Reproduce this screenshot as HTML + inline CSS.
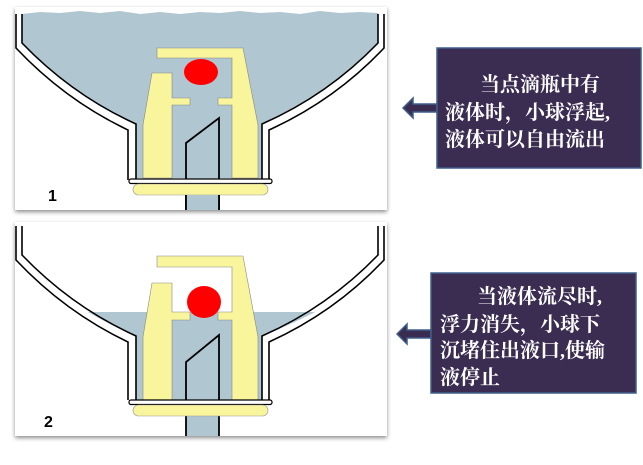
<!DOCTYPE html>
<html><head><meta charset="utf-8"><style>
body{margin:0;background:#fff;width:643px;height:460px;overflow:hidden;font-family:"Liberation Serif","Noto Serif CJK SC",serif}
</style></head><body>
<svg width="643" height="460" viewBox="0 0 643 460" xmlns="http://www.w3.org/2000/svg">
<defs>
<filter id="sh" x="-5%" y="-5%" width="110%" height="115%"><feDropShadow dx="0" dy="2" stdDeviation="2" flood-color="#000" flood-opacity="0.45"/></filter>
<g id="bottle">
 <path d="M16 14 V48 Q65 100 128 130 V180" fill="none" stroke="#000" stroke-width="1.6"/>
 <path d="M22 14 V43 Q72 95 136 124 V180" fill="none" stroke="#000" stroke-width="1.6"/>
 <path d="M384 14 V48 Q335 100 269 130 V180" fill="none" stroke="#000" stroke-width="1.6"/>
 <path d="M378 14 V43 Q328 95 262 124 V180" fill="none" stroke="#000" stroke-width="1.6"/>
</g>
<g id="mech">
 <path d="M152 73 H172 V98 H190 V105 H172 V178 H143 V125 Z" fill="#f9f59c" stroke="#888" stroke-width="0.6"/>
 <path d="M157 48 H243 L258 125 V178 H232 V105 H218 V98 H232 V58 H157 Z" fill="#f9f59c" stroke="#888" stroke-width="0.6"/>
 <path d="M186 210 V143 L219 118 V210" fill="none" stroke="#000" stroke-width="1.8"/>
 <rect x="129" y="179" width="143" height="4.5" rx="2" fill="#fff" stroke="#000" stroke-width="1.2"/>
 <rect x="133" y="184" width="135" height="11" rx="5.5" fill="#f9f59c" stroke="#999" stroke-width="0.6"/>
</g>
</defs>

<rect x="15" y="7" width="372" height="203" fill="#fff" filter="url(#sh)"/>
<path d="M22 14 L40 12 L60 13 L80 11 L100 13 L120 11 L140 14 L160 12 L180 14 L200 12 L220 13 L240 11 L260 13 L280 12 L300 14 L320 11 L340 13 L360 12 L378 13 V43 Q328 95 262 124 V178 H136 V124 Q72 95 22 43 Z" fill="#b0c6d1"/>
<rect x="186" y="178" width="33" height="32" fill="#b0c6d1"/>
<use href="#bottle"/>
<use href="#mech"/>
<rect x="186" y="195" width="33" height="15" fill="#b0c6d1"/>
<path d="M186 195 V210 M219 195 V210" stroke="#000" stroke-width="1.8"/>
<ellipse cx="201" cy="72" rx="17" ry="13" fill="#f00"/>
<text x="48" y="201" font-family="Liberation Sans,sans-serif" font-weight="bold" font-size="16">1</text>

<rect x="15" y="222" width="372" height="214" fill="#fff" filter="url(#sh)"/>
<g transform="translate(0,212)">
 <path d="M88 100 H315 Q290 113 262 124 V188 H136 V124 Q110 113 88 100 Z" fill="#b0c6d1"/>
 <rect x="186" y="188" width="33" height="36" fill="#b0c6d1"/>
 <use href="#bottle"/>
 <path d="M128 180 V188 M136 180 V188 M262 180 V188 M269 180 V188" stroke="#000" stroke-width="1.6"/>
 <g transform="translate(0,8)">
  <path d="M152 63 H172 V92 H190 V100 H172 V180 H143 V117 Z" fill="#f9f59c" stroke="#888" stroke-width="0.6"/>
  <path d="M157 36 H243 L258 117 V180 H232 V100 H218 V92 H232 V47 H157 Z" fill="#f9f59c" stroke="#888" stroke-width="0.6"/>
 </g>
 <path d="M186 224 V150 L219 123 V224" fill="none" stroke="#000" stroke-width="1.8"/>
 <rect x="129" y="188" width="143" height="4.5" rx="2" fill="#fff" stroke="#000" stroke-width="1.2"/>
 <rect x="133" y="193" width="135" height="11" rx="5.5" fill="#f9f59c" stroke="#999" stroke-width="0.6"/>
 <ellipse cx="204" cy="90" rx="17" ry="16" fill="#f00"/>
</g>
<text x="44" y="427" font-family="Liberation Sans,sans-serif" font-weight="bold" font-size="16">2</text>

<path d="M403 108 L413 98 V104 H437 V112 H413 V118 Z" fill="#3b2c52" stroke="#3e5f8a" stroke-width="1.5"/>
<rect x="437" y="48" width="204" height="120" fill="#3b2c52" stroke="#3e5f8a" stroke-width="1.5"/>
<g fill="#fff" font-size="20" font-weight="bold">
 <text x="480" y="91">当点滴瓶中有</text>
 <text x="445" y="119">液体时，小球浮起,</text>
 <text x="445" y="146">液体可以自由流出</text>
</g>

<path d="M397 334 L407 324 V330 H431 V338 H407 V344 Z" fill="#3b2c52" stroke="#3e5f8a" stroke-width="1.5"/>
<rect x="431" y="273" width="205" height="120" fill="#3b2c52" stroke="#3e5f8a" stroke-width="1.5"/>
<g fill="#fff" font-size="20" font-weight="bold">
 <text x="477" y="303">当液体流尽时,</text>
 <text x="440" y="331">浮力消失，小球下</text>
 <text x="440" y="357">沉堵住出液口,使输</text>
 <text x="440" y="384">液停止</text>
</g>
</svg>
</body></html>
